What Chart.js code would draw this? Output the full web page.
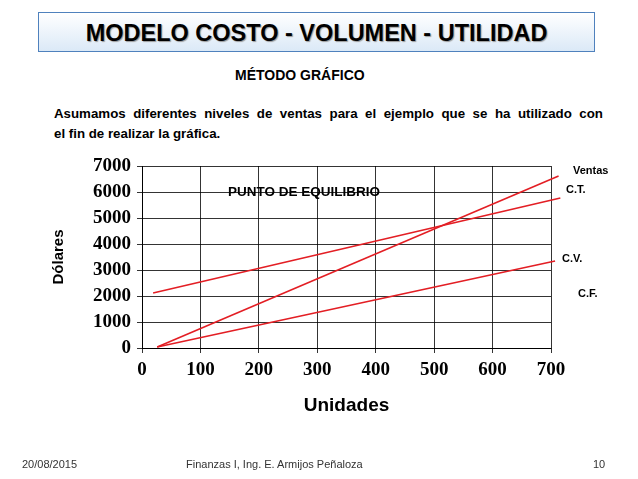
<!DOCTYPE html>
<html><head><meta charset="utf-8">
<script src="https://cdn.jsdelivr.net/npm/chart.js@4"></script>
<style>
body{margin:0;width:638px;height:479px;position:relative;background:#fff;font-family:"Liberation Sans",Arial,sans-serif;overflow:hidden}
.t{position:absolute;white-space:nowrap}
#title{position:absolute;left:38px;top:12px;width:555px;height:38px;border:1px solid #4f81bd;background:linear-gradient(#ffffff,#dbe9f7);text-align:center;font:bold 23.5px "Liberation Sans";line-height:40px;color:#000;text-shadow:1px 1px 1px #999}
#c{position:absolute;left:0;top:0}
</style></head><body>
<div id="title">MODELO COSTO - VOLUMEN - UTILIDAD</div>
<div class="t" style="left:235px;top:67px;font:bold 14px 'Liberation Sans'">MÉTODO GRÁFICO</div>
<div class="t" style="left:54px;top:104px;width:549px;font:bold 13.3px 'Liberation Sans';line-height:20px;text-align:justify;text-align-last:justify">Asumamos diferentes niveles de ventas para el ejemplo que se ha utilizado con</div>
<div class="t" style="left:54px;top:124px;font:bold 13.3px 'Liberation Sans';line-height:20px">el fin de realizar la gráfica.</div>
<canvas id="c" width="638" height="479"></canvas>
<div class="t" style="left:228px;top:184px;font:bold 13.5px 'Liberation Sans'">PUNTO DE EQUILIBRIO</div>
<div class="t" style="left:573px;top:164px;font:bold 11px 'Liberation Sans'">Ventas</div>
<div class="t" style="left:566px;top:183px;font:bold 11px 'Liberation Sans'">C.T.</div>
<div class="t" style="left:562px;top:252px;font:bold 11px 'Liberation Sans'">C.V.</div>
<div class="t" style="left:578px;top:287px;font:bold 11px 'Liberation Sans'">C.F.</div>
<div class="t" style="left:22px;top:458px;font:11px 'Liberation Sans';color:#333">20/08/2015</div>
<div class="t" style="left:186px;top:458px;font:11px 'Liberation Sans';color:#333">Finanzas I, Ing. E. Armijos Peñaloza</div>
<div class="t" style="left:593px;top:458px;font:11px 'Liberation Sans';color:#333">10</div>
<script>
const ventasX=[26,713];
const ventas=[40,6615];
const costoTotalX=[19,716];
const costoTotal=[2115,5769];
const costoVariableX=[26,707];
const costoVariable=[40,3346];
const yTicks=[0,1000,2000,3000,4000,5000,6000,7000];
const xTicks=[0,100,200,300,400,500,600,700];
const mk=(xs,arr,label)=>({label,data:xs.map((u,i)=>({x:u,y:arr[i]})),borderColor:'#e31e24',borderWidth:1.6,pointRadius:0,showLine:true,fill:false,clip:false});
new Chart(document.getElementById('c'),{type:'scatter',
data:{datasets:[mk(ventasX,ventas,'Ventas'),mk(costoTotalX,costoTotal,'C.T.'),mk(costoVariableX,costoVariable,'C.V.')]},
options:{responsive:false,animation:false,
layout:{padding:{left:50,right:87,top:166,bottom:58}},
plugins:{legend:{display:false},tooltip:{enabled:false}},
scales:{
x:{type:'linear',min:0,max:700,afterFit:s=>{s.height=73},afterBuildTicks:s=>{s.ticks=xTicks.map(v=>({value:v}))},
 grid:{color:'#000',lineWidth:0.8,tickLength:5},border:{color:'#000',width:1},
 ticks:{color:'#000',font:{family:'Liberation Serif',weight:'bold',size:19},padding:6,callback:v=>String(v)},
 title:{display:true,text:'Unidades',color:'#000',font:{family:'Liberation Sans',weight:'bold',size:19},padding:{top:0}}},
y:{min:0,max:7000,afterFit:s=>{s.width=92},afterBuildTicks:s=>{s.ticks=yTicks.map(v=>({value:v}))},
 grid:{color:'#000',lineWidth:0.8,tickLength:5},border:{color:'#000',width:1},
 ticks:{color:'#000',font:{family:'Liberation Serif',weight:'bold',size:19},padding:6,callback:v=>String(v)},
 title:{display:true,text:'Dólares',color:'#000',font:{family:'Liberation Sans',weight:'bold',size:15},padding:0}}
}}});
</script>
</body></html>
